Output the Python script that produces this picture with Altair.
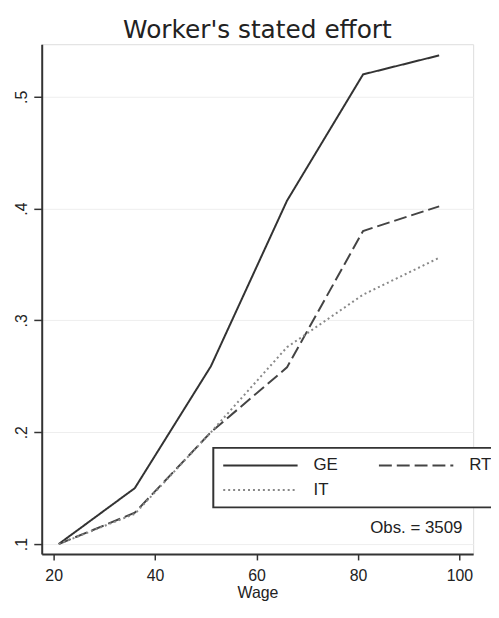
import altair as alt
import pandas as pd

wage = [21, 36, 51, 66, 81, 96]
ge = [0.100, 0.150, 0.259, 0.407, 0.520, 0.537]
rt = [0.100, 0.128, 0.200, 0.258, 0.380, 0.402]
it = [0.100, 0.127, 0.200, 0.276, 0.323, 0.356]
series_names = ["GE", "RT", "IT"]
x_ticks = [20, 40, 60, 80, 100]
y_ticks = [0.1, 0.2, 0.3, 0.4, 0.5]

rows = []
for name, vals in zip(series_names, [ge, rt, it]):
    for i, (w, v) in enumerate(zip(wage, vals)):
        rows.append({"wage": w, "effort": v, "series": name, "order": i})
df = pd.DataFrame(rows)

note = pd.DataFrame({"wage": [100.6], "effort": [0.114], "text": ["Obs. = 3509"]})

FONT = "Liberation Sans"

xscale = alt.Scale(domain=[17.65, 102.7], nice=False, zero=False)
yscale = alt.Scale(domain=[0.0911, 0.547], nice=False, zero=False)

legend = alt.Legend(title=None, orient="none", legendX=173, legendY=407,
                    columns=2, direction="horizontal")

lines = alt.Chart(df).mark_line(strokeWidth=2).encode(
    x=alt.X("wage:Q", scale=xscale,
            axis=alt.Axis(values=x_ticks, title="Wage", grid=False, tickSize=6,
                          labelFontSize=16, titleFontSize=16, titleFontWeight="normal",
                          labelPadding=8, titlePadding=1, labelFont=FONT, titleFont=FONT,
                          domainColor="#333333", tickColor="#333333", domainWidth=2, tickWidth=1.5,
                          labelColor="#222222", titleColor="#222222")),
    y=alt.Y("effort:Q", scale=yscale,
            axis=alt.Axis(values=y_ticks, title=None, grid=True, gridColor="#eeeeee",
                          tickSize=8, labelAngle=270, labelFontSize=16, labelFont=FONT,
                          labelExpr="substring(format(datum.value, '.1f'), 1)",
                          labelAlign="center", labelBaseline="bottom", labelPadding=4,
                          domainColor="#333333", tickColor="#333333", domainWidth=2, tickWidth=1.5,
                          labelColor="#222222")),
    color=alt.Color("series:N", scale=alt.Scale(domain=series_names,
                                                range=["#333333", "#444444", "#888888"]),
                    sort=series_names, legend=legend),
    strokeDash=alt.StrokeDash("series:N",
                              scale=alt.Scale(domain=series_names,
                                              range=[[1, 0], [13, 5], [2, 3]]),
                              sort=series_names, legend=legend),
    order="order:Q",
)

text = alt.Chart(note).mark_text(align="right", baseline="middle", fontSize=17,
                                 font=FONT, color="#222222").encode(
    x=alt.X("wage:Q", scale=xscale),
    y=alt.Y("effort:Q", scale=yscale),
    text="text:N",
)

chart = alt.layer(lines, text).properties(
    width=435, height=514,
    title=alt.TitleParams("Worker's stated effort", fontSize=25, font="DejaVu Sans",
                          fontWeight="normal", anchor="middle", offset=1, color="#222222"),
    autosize=alt.AutoSizeParams(type="none"),
    padding={"left": 34, "top": 34, "right": 18, "bottom": 60},
).configure_view(stroke=None).configure(background="white").configure_legend(
    symbolType="M-1,0H9", symbolSize=225, symbolStrokeWidth=2,
    labelFontSize=17, labelFont=FONT, labelColor="#222222",
    labelOffset=75, columnPadding=37, rowPadding=7,
    padding=9, strokeColor="#333333", strokeWidth=2, fillColor="white",
)

chart.save("out.html", embed_options={"renderer": "svg", "actions": False})
